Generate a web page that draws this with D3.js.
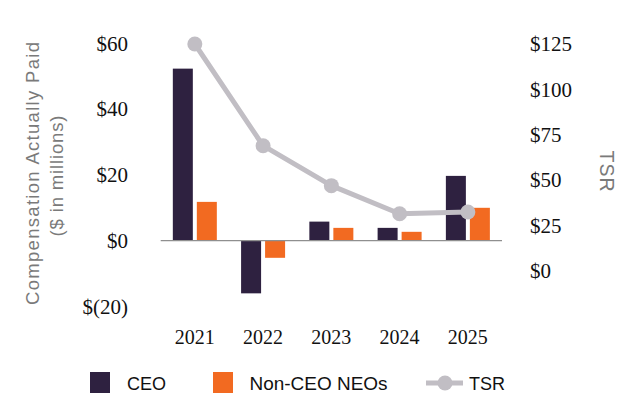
<!DOCTYPE html>
<html><head><meta charset="utf-8">
<script src="https://cdn.jsdelivr.net/npm/d3@7"></script>
<style>
body{margin:0;background:#fff;}
.serif{font-family:"Liberation Serif","DejaVu Serif",serif;font-variant-numeric:oldstyle-nums;font-feature-settings:"onum" 1;}
.sans{font-family:"Liberation Sans",Arial,sans-serif;}
</style></head><body>
<svg id="c" width="632" height="402"></svg>
<script>
const years = ["2021","2022","2023","2024","2025"];
const ceo = [52.3, -16, 5.8, 3.9, 19.7];
const neo = [11.8, -5.2, 3.9, 2.7, 10];
const tsr = [125, 69, 47, 31.5, 32.5];
const leftTicks = [-20, 0, 20, 40, 60];
const rightTicks = [0, 25, 50, 75, 100, 125];
const seriesNames = ["CEO", "Non-CEO NEOs", "TSR"];
const colors = {ceo:"#2e2140", neo:"#f26a21", tsr:"#c1bec4"};

const svg = d3.select("#c");
const x = d3.scaleBand().domain(years).range([160.7, 502]);
const yL = d3.scaleLinear().domain([-20, 60]).range([306.5, 43.3]);
const yR = d3.scaleLinear().domain([0, 125]).range([271, 44]);
const barW = 20, gap = 4;

// bars
const g = svg.append("g");
g.selectAll("rect.ceo").data(years).join("rect")
  .attr("x", d => x(d) + x.bandwidth()/2 - gap/2 - barW)
  .attr("width", barW)
  .attr("y", (d,i) => yL(Math.max(0, ceo[i])))
  .attr("height", (d,i) => Math.abs(yL(ceo[i]) - yL(0)))
  .attr("fill", colors.ceo);
g.selectAll("rect.neo").data(years).join("rect")
  .attr("x", d => x(d) + x.bandwidth()/2 + gap/2)
  .attr("width", barW)
  .attr("y", (d,i) => yL(Math.max(0, neo[i])))
  .attr("height", (d,i) => Math.abs(yL(neo[i]) - yL(0)))
  .attr("fill", colors.neo);

// baseline
svg.append("line").attr("x1", x.range()[0]).attr("x2", x.range()[1])
  .attr("y1", yL(0)).attr("y2", yL(0)).attr("stroke", "#8f8f8f").attr("stroke-width", 1.3);

// TSR line
const line = d3.line().x((d,i) => x(years[i]) + x.bandwidth()/2).y(d => yR(d));
svg.append("path").datum(tsr).attr("d", line).attr("fill", "none")
  .attr("stroke", colors.tsr).attr("stroke-width", 5).attr("stroke-linejoin", "round");
svg.selectAll("circle.tsr").data(tsr).join("circle")
  .attr("cx", (d,i) => x(years[i]) + x.bandwidth()/2).attr("cy", d => yR(d))
  .attr("r", 7.5).attr("fill", colors.tsr);

// left axis
const fmtL = v => v < 0 ? "$(" + Math.abs(v) + ")" : "$" + v;
const axL = svg.append("g").attr("transform", "translate(128,0)")
  .call(d3.axisLeft(yL).tickValues(leftTicks).tickFormat(fmtL).tickSize(0).tickPadding(0));
axL.select(".domain").remove();
axL.selectAll("text").attr("class", "serif").attr("font-size", 21).attr("fill", "#111").attr("dy", "0.32em");

// right axis
const axR = svg.append("g").attr("transform", "translate(530,0)")
  .call(d3.axisRight(yR).tickValues(rightTicks).tickFormat(v => "$" + v).tickSize(0).tickPadding(0));
axR.select(".domain").remove();
axR.selectAll("text").attr("class", "serif").attr("font-size", 21).attr("fill", "#111").attr("dy", "0.32em");

// x axis labels
const axX = svg.append("g").attr("transform", "translate(0,330)")
  .call(d3.axisBottom(x).tickSize(0).tickPadding(0));
axX.select(".domain").remove();
axX.selectAll("text").attr("class", "serif").attr("font-size", 20).attr("fill", "#111").attr("dy", "0.71em");

// axis titles
svg.append("text").attr("class", "sans").attr("transform", "translate(33,173.5) rotate(-90)")
  .attr("text-anchor", "middle").attr("fill", "#7a7a7a").attr("font-size", 18.5).attr("dy", "0.35em")
  .attr("textLength", 263).attr("lengthAdjust", "spacing")
  .text("Compensation Actually Paid");
svg.append("text").attr("class", "sans").attr("transform", "translate(57,176) rotate(-90)")
  .attr("text-anchor", "middle").attr("fill", "#7a7a7a").attr("font-size", 18.5).attr("dy", "0.35em")
  .attr("textLength", 121).attr("lengthAdjust", "spacing")
  .text("($ in millions)");
svg.append("text").attr("class", "sans").attr("transform", "translate(607,171) rotate(90)")
  .attr("text-anchor", "middle").attr("fill", "#7a7a7a").attr("font-size", 19.5).attr("dy", "0.35em")
  .attr("textLength", 41).attr("lengthAdjust", "spacing")
  .text("TSR");

// legend
const lg = svg.append("g").attr("class", "sans");
lg.append("rect").attr("x", 90).attr("y", 372).attr("width", 20).attr("height", 21).attr("fill", colors.ceo);
lg.append("text").attr("x", 127).attr("y", 383.5).attr("dy", "0.35em").attr("font-size", 19).attr("fill", "#111")
  .attr("textLength", 39).attr("lengthAdjust", "spacingAndGlyphs").text(seriesNames[0]);
lg.append("rect").attr("x", 213).attr("y", 372).attr("width", 20).attr("height", 21).attr("fill", colors.neo);
lg.append("text").attr("x", 249.5).attr("y", 383.5).attr("dy", "0.35em").attr("font-size", 19).attr("fill", "#111")
  .attr("textLength", 138).attr("lengthAdjust", "spacingAndGlyphs").text(seriesNames[1]);
lg.append("line").attr("x1", 426).attr("x2", 463).attr("y1", 383).attr("y2", 383).attr("stroke", colors.tsr).attr("stroke-width", 5);
lg.append("circle").attr("cx", 445).attr("cy", 383).attr("r", 7.5).attr("fill", colors.tsr);
lg.append("text").attr("x", 469).attr("y", 383.5).attr("dy", "0.35em").attr("font-size", 19).attr("fill", "#111")
  .attr("textLength", 36).attr("lengthAdjust", "spacingAndGlyphs").text(seriesNames[2]);
</script>
</body></html>
